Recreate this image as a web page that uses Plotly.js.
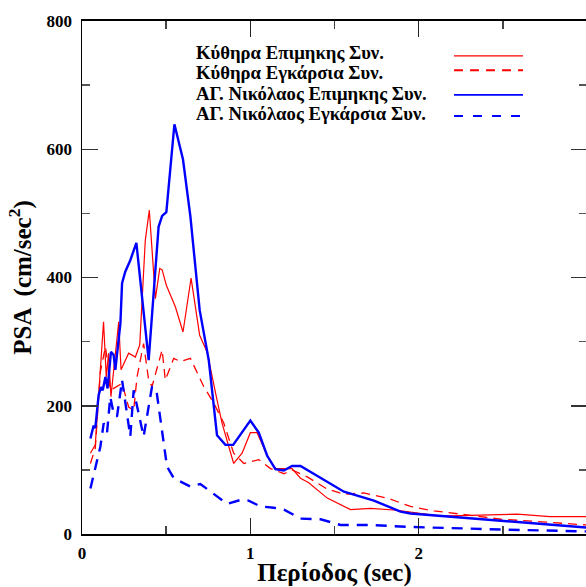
<!DOCTYPE html>
<html>
<head>
<meta charset="utf-8">
<script src="https://cdn.plot.ly/plotly-3.0.1.min.js"></script>
<style>html,body{margin:0;padding:0;overflow:hidden;background:#fff}</style>
</head>
<body>
<div id="chart"></div>
<script>
// Series names
const names = [
  "Κύθηρα Επιμηκης Συν.",
  "Κύθηρα Εγκάρσια Συν.",
  "ΑΓ. Νικόλαος Επιμηκης Συν.",
  "ΑΓ. Νικόλαος Εγκάρσια Συν."
];

// Κύθηρα Επιμηκης (red solid)
const kythL_x = [0.05,0.079,0.128,0.144,0.158,0.172,0.218,0.232,0.277,0.317,0.343,0.376,0.40,0.436,0.462,0.476,0.501,0.555,0.600,0.648,0.699,0.743,0.802,0.832,0.901,0.951,1.0,1.04,1.10,1.149,1.248,1.298,1.347,1.457,1.595,1.714,1.873,2.13,2.586,2.78,3.0];
const kythL_y = [126,139,331,245,282,214,331,256,282,276,295,458,505,367,414,412,388,354,315,399,310,284,209,173,110,126,158,158,123,102,102,87,80,56,38,40,37,28,31,27,27];

// Κύθηρα Εγκάρσια (red dashed)
const kythT_x = [0.05,0.079,0.109,0.139,0.153,0.168,0.238,0.277,0.307,0.327,0.366,0.396,0.416,0.476,0.495,0.545,0.584,0.644,0.723,0.783,0.842,0.901,0.961,1.05,1.12,1.2,1.248,1.338,1.457,1.556,1.674,1.813,1.952,2.09,2.25,2.49,2.73,3.0];
const kythT_y = [110,134,253,292,266,224,235,198,193,245,297,240,230,287,240,274,269,274,230,204,173,126,110,116,102,94,100,89,70,62,64,56,43,36,31,23,19,14];

// ΑΓ. Νικόλαος Επιμηκης (blue solid)
const nikL_x = [0.05,0.069,0.079,0.093,0.099,0.113,0.123,0.139,0.152,0.172,0.188,0.198,0.228,0.238,0.257,0.287,0.323,0.396,0.455,0.476,0.501,0.549,0.600,0.644,0.699,0.753,0.802,0.852,0.898,1.0,1.05,1.10,1.149,1.199,1.248,1.298,1.556,1.734,1.892,1.952,2.45,3.0];
const nikL_y = [149,169,165,201,217,229,224,245,227,284,279,256,328,391,409,427,454,271,479,496,502,639,584,495,349,271,154,139,139,177,158,122,101,99,106,106,66,52,35,32,22,10];

// ΑΓ. Νικόλαος Εγκάρσια (blue dashed)
const nikT_x = [0.05,0.079,0.109,0.129,0.149,0.168,0.188,0.208,0.238,0.287,0.307,0.366,0.416,0.442,0.505,0.545,0.644,0.703,0.783,0.862,0.941,0.99,1.06,1.139,1.2,1.298,1.417,1.536,1.714,1.952,2.49,3.0];
const nikT_y = [71,102,136,173,159,214,188,183,240,152,224,152,230,224,105,87,74,78,63,47,53,52,43,41,38,24,23,14,14,11,7,4];

const xTicks = [0,1,2,3];
const yTicks = [0,200,400,600,800];

const serif = "Liberation Serif";

const traces = [
  {x:kythL_x, y:kythL_y, name:names[0], mode:"lines", line:{color:"#ff0000", width:1.2}},
  {x:kythT_x, y:kythT_y, name:names[1], mode:"lines", line:{color:"#ff0000", width:1.3, dash:"9px,6px"}},
  {x:nikL_x, y:nikL_y, name:names[2], mode:"lines", line:{color:"#0000ff", width:2.4}},
  {x:nikT_x, y:nikT_y, name:names[3], mode:"lines", line:{color:"#0000ff", width:2.4, dash:"11px,8px"}}
];

// custom legend (text left, sample line right)
const legY = [0.938, 0.899, 0.858, 0.819];
const lineY = [0.932, 0.904, 0.856, 0.815];
const legStyles = [
  {color:"#ff0000", width:1.3, dash:"solid"},
  {color:"#ff0000", width:2, dash:"9px,7px"},
  {color:"#0000ff", width:1.6, dash:"solid"},
  {color:"#0000ff", width:2, dash:"9px,10px"}
];
const annotations = names.map((n,i)=>({
  text:n, xref:"paper", yref:"paper", x:0.2218, y:legY[i],
  xanchor:"left", yanchor:"middle", showarrow:false,
  font:{family:serif, size:18.7, color:"#000", weight:700}
}));
const shapes = legStyles.map((s,i)=>({
  type:"line", xref:"paper", yref:"paper", x0:0.7366, x1:0.8733, y0:lineY[i], y1:lineY[i],
  line:{color:s.color, width:s.width, dash:s.dash}
}));

const layout = {
  width:590, height:587,
  margin:{l:82, r:3, t:21, b:53},
  paper_bgcolor:"#fff", plot_bgcolor:"#fff",
  showlegend:false,
  font:{family:serif},
  xaxis:{
    range:[0,3], tickvals:xTicks, ticktext:xTicks.map(String),
    ticks:"inside", ticklen:16, tickwidth:1.5, tickcolor:"#222",
    minor:{dtick:0.5, tick0:0, ticks:"inside", ticklen:8, tickwidth:1.5, tickcolor:"#444"},
    showline:true, linecolor:"#000", linewidth:2, mirror:"ticks",
    showgrid:false, zeroline:false, ticklabelstandoff:3,
    tickfont:{family:serif, size:17, color:"#000", weight:"bold"},
    title:{text:"Περίοδος (sec)", standoff:2, font:{family:serif, size:25, color:"#000", weight:"bold"}}
  },
  yaxis:{
    range:[0,800], tickvals:yTicks, ticktext:yTicks.map(String),
    ticks:"inside", ticklen:16, tickwidth:1.5, tickcolor:"#333",
    minor:{dtick:100, tick0:0, ticks:"inside", ticklen:8, tickwidth:1.5, tickcolor:"#555"},
    showline:true, linecolor:"#000", linewidth:1.5, mirror:"ticks",
    showgrid:false, zeroline:false, ticklabelstandoff:5,
    tickfont:{family:serif, size:17, color:"#000", weight:"bold"},
    title:{text:"PSA  (cm/sec<sup>2</sup>)", standoff:8, font:{family:serif, size:25, color:"#000", weight:"bold"}}
  },
  annotations:annotations,
  shapes:shapes
};

Plotly.newPlot("chart", traces, layout, {displayModeBar:false, staticPlot:true});
</script>
</body>
</html>
